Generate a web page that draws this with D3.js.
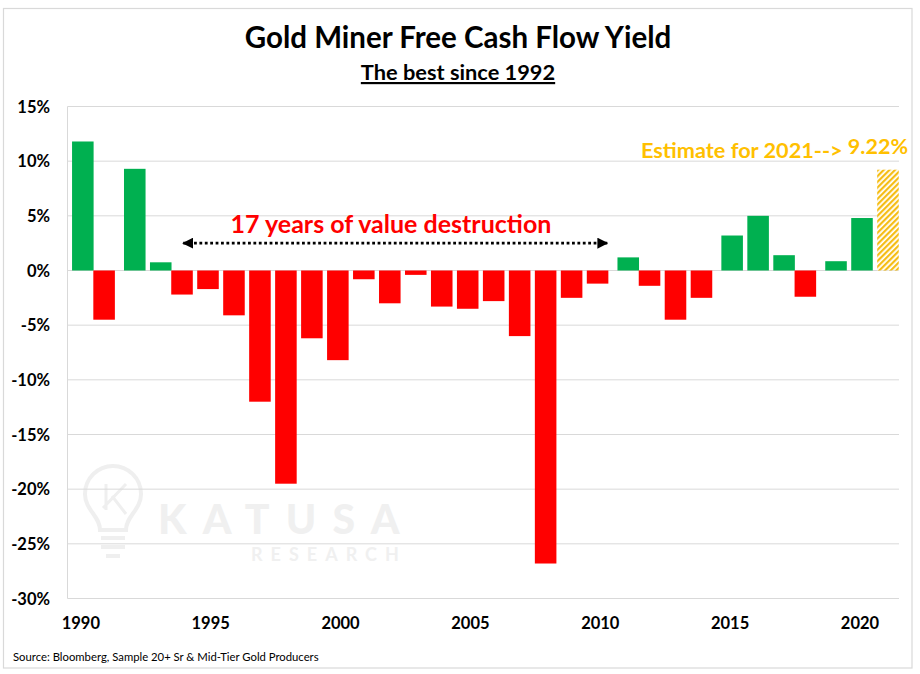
<!DOCTYPE html>
<html>
<head>
<meta charset="utf-8">
<script src="https://cdn.jsdelivr.net/npm/d3@7"></script>
<style>
  html, body { margin: 0; padding: 0; background: #fff; }
  svg { display: block; }
  text { font-family: Lato, "Open Sans", sans-serif; }
</style>
</head>
<body>
<div id="chart-area"></div>
<script>
/* Gold miner free cash flow yield */

const years = [1990, 1991, 1992, 1993, 1994, 1995, 1996, 1997, 1998, 1999, 2000,
               2001, 2002, 2003, 2004, 2005, 2006, 2007, 2008, 2009, 2010,
               2011, 2012, 2013, 2014, 2015, 2016, 2017, 2018, 2019, 2020, 2021]
const yields = [11.8, -4.5, 9.3, 0.75, -2.2, -1.7, -4.1, -12, -19.5, -6.2, -8.2,
                -0.8, -3, -0.4, -3.3, -3.5, -2.8, -6, -26.8, -2.5, -1.2,
                1.2, -1.4, -4.5, -2.5, 3.2, 5, 1.4, -2.4, 0.85, 4.8, 9.22]
const yTicks = [15, 10, 5, 0, -5, -10, -15, -20, -25, -30]
const xTicks = [1990, 1995, 2000, 2005, 2010, 2015, 2020]
const estimateYear = 2021

const WIDTH = 920
const HEIGHT = 674
const MARGIN = { LEFT: 67.5, RIGHT: 21, TOP: 106.5, BOTTOM: 75.5 }
// the negative series sits a bit left of the positive one in the original
const NEG_OFFSET = -4.7

const svg = d3.select("#chart-area").append("svg")
    .attr("width", WIDTH)
    .attr("height", HEIGHT)

// outer frame
svg.append("rect")
    .attr("x", 3.5).attr("y", 8.5)
    .attr("width", 908.5).attr("height", 659.5)
    .attr("fill", "#fff")
    .attr("stroke", "#d9d9d9")
    .attr("stroke-width", 1.2)

// hatch for the estimate bar
const defs = svg.append("defs")
const hatch = defs.append("pattern")
    .attr("id", "hatch")
    .attr("patternUnits", "userSpaceOnUse")
    .attr("width", 4).attr("height", 4)
    .attr("patternTransform", "rotate(-45)")
hatch.append("rect").attr("width", 4).attr("height", 4).attr("fill", "#fff")
hatch.append("rect").attr("width", 4).attr("height", 2.2).attr("fill", "#f5bd14")

defs.append("marker")
    .attr("id", "arrowhead")
    .attr("viewBox", "0 0 10 10")
    .attr("refX", 9).attr("refY", 5)
    .attr("markerUnits", "userSpaceOnUse")
    .attr("markerWidth", 11).attr("markerHeight", 11)
    .attr("orient", "auto-start-reverse")
    .append("path")
    .attr("d", "M0,0 L10,5 L0,10 Z")
    .attr("fill", "#000")

// scales - bars start a little inside the plot, gridlines start at MARGIN.LEFT
const x = d3.scaleBand()
    .domain(years)
    .range([71.4, WIDTH - MARGIN.RIGHT + 0.4])
    .paddingInner(0.17)
    .paddingOuter(0.025)

const y = d3.scaleLinear()
    .domain([-30, 15])
    .range([HEIGHT - MARGIN.BOTTOM, MARGIN.TOP])

// watermark goes under the grid
const wm = svg.append("g").attr("fill", "none").attr("stroke", "#efefef").attr("stroke-width", 4)
wm.append("path").attr("d", "M100,530 C100,516 85,510 85,494 A28,28 0 1 1 141,494 C141,510 126,516 126,530 Z")
wm.append("path").attr("d", "M101,538 H125 M101,547 H125 M106,556 H120")
wm.append("path").attr("d", "M106,484 L106,510 M126,484 L103,508 M112,496 L126,514").attr("stroke-width", 3)
svg.append("text")
    .attr("x", 158).attr("y", 534)
    .attr("font-size", 41).attr("font-weight", 900)
    .attr("letter-spacing", 16.2)
    .attr("fill", "#f0f0f0")
    .text("KATUSA")
svg.append("text")
    .attr("x", 251).attr("y", 561)
    .attr("font-size", 18).attr("font-weight", 700)
    .attr("letter-spacing", 8)
    .attr("fill", "#f0f0f0")
    .text("RESEARCH")

// gridlines
svg.selectAll(".grid").data(yTicks).enter().append("line")
    .attr("class", "grid")
    .attr("x1", MARGIN.LEFT).attr("x2", WIDTH - MARGIN.RIGHT)
    .attr("y1", d => y(d)).attr("y2", d => y(d))
    .attr("stroke", "#d9d9d9")
    .attr("stroke-width", 1)

svg.append("line")
    .attr("x1", MARGIN.LEFT).attr("x2", MARGIN.LEFT)
    .attr("y1", y(15)).attr("y2", y(-30))
    .attr("stroke", "#d9d9d9")

// bars
svg.selectAll(".bar").data(years).enter().append("rect")
    .attr("class", "bar")
    .attr("x", (d, i) => x(d) + (yields[i] < 0 ? NEG_OFFSET : 0))
    .attr("width", x.bandwidth())
    .attr("y", (d, i) => y(Math.max(yields[i], 0)))
    .attr("height", (d, i) => Math.abs(y(yields[i]) - y(0)))
    .attr("fill", (d, i) => {
        if (d === estimateYear) return "url(#hatch)"
        return yields[i] >= 0 ? "#00b050" : "#ff0000"
    })

// y axis labels
svg.selectAll(".ylab").data(yTicks).enter().append("text")
    .attr("class", "ylab")
    .attr("x", 50)
    .attr("y", d => y(d) + 6)
    .attr("text-anchor", "end")
    .attr("font-size", 16.5).attr("font-weight", 700)
    .attr("fill", "#000")
    .text(d => d + "%")

// x axis labels
svg.selectAll(".xlab").data(xTicks).enter().append("text")
    .attr("class", "xlab")
    .attr("x", d => x(d) + x.bandwidth() / 2 - 2)
    .attr("y", 629)
    .attr("text-anchor", "middle")
    .attr("font-size", 16.5).attr("font-weight", 700)
    .attr("fill", "#000")
    .text(d => d)

// titles
svg.append("text")
    .attr("x", 458).attr("y", 48)
    .attr("text-anchor", "middle")
    .attr("font-size", 29.5).attr("font-weight", 700)
    .attr("fill", "#000")
    .text("Gold Miner Free Cash Flow Yield")
svg.append("text")
    .attr("x", 458).attr("y", 80)
    .attr("text-anchor", "middle")
    .attr("font-size", 21.8).attr("font-weight", 700)
    .attr("text-decoration", "underline")
    .attr("fill", "#000")
    .text("The best since 1992")

// annotations
svg.append("text")
    .attr("x", 391).attr("y", 233)
    .attr("text-anchor", "middle")
    .attr("font-size", 25).attr("font-weight", 700)
    .attr("fill", "#ff0000")
    .text("17 years of value destruction")

svg.append("line")
    .attr("x1", x(1994) + x.bandwidth() / 2 - 3.5).attr("x2", x(2010) + x.bandwidth() / 2 + 5)
    .attr("y1", y(2.5)).attr("y2", y(2.5))
    .attr("stroke", "#000")
    .attr("stroke-width", 2.8)
    .attr("stroke-dasharray", "2.8 2.6")
    .attr("marker-start", "url(#arrowhead)")
    .attr("marker-end", "url(#arrowhead)")

svg.append("text")
    .attr("x", 641).attr("y", 158)
    .attr("font-size", 21.7).attr("font-weight", 700)
    .attr("fill", "#ffc000")
    .text("Estimate for 2021-->")
svg.append("text")
    .attr("x", 908).attr("y", 154)
    .attr("text-anchor", "end")
    .attr("font-size", 21.5).attr("font-weight", 700)
    .attr("fill", "#ffc000")
    .text("9.22%")

// source
svg.append("text")
    .attr("x", 13).attr("y", 661)
    .attr("font-size", 11.3)
    .attr("fill", "#000")
    .text("Source: Bloomberg, Sample 20+ Sr & Mid-Tier Gold Producers")
</script>
</body>
</html>
